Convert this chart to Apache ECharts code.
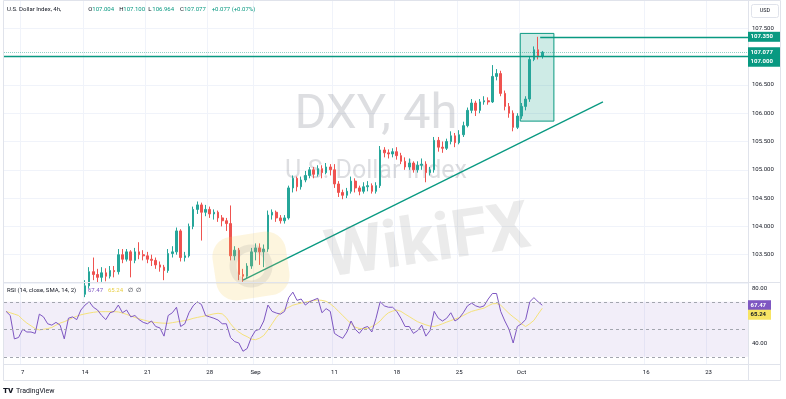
<!DOCTYPE html>
<html><head><meta charset="utf-8">
<script src="https://cdn.jsdelivr.net/npm/echarts@6/dist/echarts.min.js"></script>
<style>html,body{margin:0;padding:0;background:#fff}#c{width:786px;height:399px}</style>
</head><body><div id="c"></div>
<script>
// ---------- DATA ----------
const seriesTitle = 'U.S. Dollar Index, 4h,';
const firstDay = '2023-08-03';
const slotsPerDay = 3;
const firstSlotOffset = 2;
const totalSlots = 179;
const tickLabels = [
  ['2023-08-07|0','7'],['2023-08-14|0','14'],['2023-08-21|0','21'],['2023-08-28|0','28'],
  ['2023-08-31|2','Sep'],['2023-09-11|0','11'],['2023-09-18|0','18'],['2023-09-25|0','25'],
  ['2023-10-02|0','Oct'],['2023-10-16|0','16'],['2023-10-23|0','23']
];
const opens = [102.60,102.55,102.50,101.95,102.00,102.15,102.05,102.05,102.00,102.55,
  102.50,102.45,102.45,102.50,102.45,102.10,102.55,102.60,102.55,102.80,
  102.95,103.20,103.15,103.10,103.18,103.12,103.22,103.20,103.50,103.42,
  103.55,103.40,103.55,103.50,103.48,103.42,103.40,103.32,103.28,103.22,
  103.52,103.55,103.92,103.45,103.48,104.00,104.30,104.38,104.25,104.30,
  104.22,104.25,104.15,104.10,104.05,103.48,103.58,103.15,103.12,103.30,
  103.55,103.62,103.55,103.60,104.20,104.25,104.15,104.10,104.15,104.68,
  104.85,104.70,104.82,104.90,105.00,104.92,105.02,104.95,105.05,105.00,
  104.75,104.60,104.55,104.62,104.80,104.68,104.62,104.70,104.72,104.62,
  104.72,105.35,105.30,105.28,105.32,105.25,105.15,105.05,105.12,105.00,
  105.08,105.10,104.95,105.00,105.52,105.40,105.38,105.50,105.60,105.48,
  105.62,105.78,106.05,106.18,106.05,106.20,106.22,106.20,106.65,106.70,
  106.35,106.12,106.00,105.75,105.95,106.12,106.25,106.95,107.12,107.004];
const highs = [102.70,102.65,102.60,102.10,102.25,102.25,102.15,102.15,102.80,102.65,
  102.60,102.55,102.60,102.60,102.70,102.65,102.70,102.70,102.90,103.05,
  103.28,103.45,103.25,103.28,103.26,103.30,103.30,103.60,103.60,103.60,
  103.58,103.62,103.72,103.58,103.55,103.50,103.45,103.38,103.32,103.60,
  103.65,103.98,103.95,103.55,104.05,104.35,104.44,104.42,104.38,104.35,
  104.30,104.28,104.20,104.15,104.37,103.65,103.62,103.25,103.35,103.62,
  103.70,103.70,103.68,104.28,104.30,104.28,104.20,104.20,104.72,104.90,
  104.88,104.88,104.98,105.05,105.05,105.08,105.08,105.12,105.10,105.10,
  104.80,104.65,104.68,104.88,104.85,104.72,104.78,104.80,104.76,104.78,
  105.42,105.40,105.36,105.38,105.40,105.30,105.22,105.20,105.15,105.15,
  105.20,105.15,105.05,105.58,105.58,105.50,105.55,105.68,105.65,105.70,
  105.85,106.10,106.25,106.22,106.25,106.30,106.28,106.85,106.78,106.75,
  106.40,106.18,106.05,106.00,106.18,106.30,107.00,107.18,107.35,107.100];
const lows = [102.45,102.40,101.75,101.85,101.95,101.95,101.95,101.90,101.95,102.40,
  102.35,102.35,102.35,102.30,101.95,102.05,102.45,102.45,102.50,102.75,
  102.90,103.05,103.00,103.02,103.03,103.08,103.10,103.15,103.35,103.38,
  103.10,103.35,103.42,103.40,103.35,103.30,103.25,103.20,103.05,103.18,
  103.45,103.50,103.38,103.38,103.45,103.95,104.22,103.75,104.18,104.15,
  104.12,104.08,104.00,103.92,103.40,103.40,103.05,103.02,103.08,103.25,
  103.40,103.32,103.28,103.55,104.12,104.08,104.05,104.05,104.12,104.60,
  104.62,104.65,104.78,104.85,104.85,104.88,104.85,104.92,104.90,104.68,
  104.52,104.48,104.50,104.58,104.60,104.55,104.58,104.62,104.58,104.58,
  104.68,105.22,105.20,105.22,105.18,105.10,105.00,105.00,104.95,104.95,
  105.00,104.78,104.90,104.95,105.32,105.30,105.35,105.45,105.40,105.45,
  105.58,105.75,106.00,105.95,106.00,106.15,106.15,106.18,106.58,106.30,
  106.05,105.92,105.68,105.72,105.90,106.05,106.20,106.92,106.95,106.964];
const closes = [102.55,102.50,101.95,102.00,102.15,102.05,102.05,102.00,102.55,102.50,
  102.45,102.45,102.50,102.45,102.10,102.55,102.60,102.55,102.80,102.95,
  103.20,103.15,103.10,103.18,103.12,103.22,103.20,103.50,103.42,103.55,
  103.40,103.55,103.50,103.48,103.42,103.40,103.32,103.28,103.22,103.52,
  103.55,103.92,103.45,103.48,104.00,104.30,104.38,104.25,104.30,104.22,
  104.25,104.15,104.10,104.05,103.48,103.58,103.15,103.12,103.30,103.55,
  103.62,103.55,103.60,104.20,104.25,104.15,104.10,104.15,104.68,104.85,
  104.70,104.82,104.90,105.00,104.92,105.02,104.95,105.05,105.00,104.75,
  104.60,104.55,104.62,104.80,104.68,104.62,104.70,104.72,104.62,104.72,
  105.35,105.30,105.28,105.32,105.25,105.15,105.05,105.12,105.00,105.08,
  105.10,104.95,105.00,105.52,105.40,105.38,105.50,105.60,105.48,105.62,
  105.78,106.05,106.18,106.05,106.20,106.22,106.20,106.65,106.70,106.35,
  106.12,106.00,105.75,105.95,106.12,106.25,106.95,107.12,107.00,107.077];
const rsiValues = [63,60,43,44,50,48,48,47,61,59,
  54,53,55,53,43,58,59,57,64,67.6,
  70,66,64,60,57,62,63,67.6,62,64,
  59,60,57,55,54,56,52,51,45,60,
  62,66,52,54,62,67,70,68,60,59,
  58,56.7,54,54,44,41,40,34,36,44,
  49,50,56,67.6,63,61.8,61,63,73,77,
  71,72,67.6,70,71.3,72.5,62,65,63,47,
  45,43.4,48,56,50,47,51,52,48,58,
  70,67,66,66,63,58,52,52,47,49,
  53,45,49,63,58,56,58,62,56,58,
  62,67,69,67,66,67,72,76,76,63,
  56,50,40,52,54,57,70,73,70,67.47];
const rsiSma = [63,62,61,60,57,54.5,52.5,50.5,49.5,50,
  50.5,51.3,53,54.5,55.5,56.8,58.3,59.5,60.5,61.2,
  61.8,62.3,62.7,62.8,62.8,62.8,62.8,62.6,61.8,60.8,
  59.7,58.6,57.6,56.8,56,55.3,54.9,54.6,54.4,54.3,
  54.8,55.3,55.8,56.3,57,57.9,58.6,59.2,59.8,60.5,
  61.2,61.6,61.2,58.5,54,50.5,48,46,44.6,42.8,
  42.4,43.5,45.5,49.5,54,58.5,62,64.5,66,67.5,
  68.3,69,69.7,70.3,70.9,71.3,71,70.3,68.5,66,
  63,60,57,54,51.5,50.6,50.5,50.6,52,53.6,
  56,59.5,62,63.2,64,63,61,59.2,57.3,55.5,
  54.3,53.2,52.3,52,52.8,54,55.2,56.3,57.4,58.5,
  60,61.6,63,63.8,64.6,65.4,67,68.5,68.7,67.5,
  64.5,61.5,59,56.7,54,52,54,56.5,61,65.24];
const prevClose = 107.000;
// drawings, in (bar index, price) data coordinates
const trendLine = [[57.0, 103.05], [143.6, 106.20]];
const supportLevel = 107.000;
const resistanceRay = {fromBar: 128.5, price: 107.350};
const boxZone = {fromBar: 123.7, toBar: 131.8, top: 107.41, bottom: 105.86};
const rsiBands = [70, 50, 30];

// ---------- BUILD ----------
function buildCategories() {
  const out = [];
  const d = new Date(firstDay + 'T00:00:00Z');
  while (out.length < totalSlots + firstSlotOffset) {
    const wd = d.getUTCDay();
    if (wd !== 0 && wd !== 6) {
      const s = d.toISOString().slice(0, 10);
      for (let k = 0; k < slotsPerDay; k++) out.push(s + '|' + k);
    }
    d.setUTCDate(d.getUTCDate() + 1);
  }
  return out.slice(firstSlotOffset, firstSlotOffset + totalSlots);
}
const categories = buildCategories();
const labelMap = new Map(tickLabels);
const candles = closes.map((c, i) => [opens[i], c, lows[i], highs[i]]);
const TEAL = '#089981', UP = '#26a69a', DOWN = '#ef5350', TXT = '#131722', LINE = '#e0e3eb';
const F = 'Roboto';

const chart = echarts.init(document.getElementById('c'));
const option = {
  animation: false,
  backgroundColor: '#ffffff',
  textStyle: {fontFamily: F},
  grid: [
    {left: 4, right: 38, top: 0, height: 283},
    {left: 4, right: 38, top: 274.25, height: 96.25},
    {left: 4, right: 38, top: 0, height: 364}
  ],
  xAxis: [
    {type: 'category', gridIndex: 0, data: categories, boundaryGap: true, show: false},
    {type: 'value', gridIndex: 0, min: -0.5, max: totalSlots - 0.5, show: false},
    {type: 'category', gridIndex: 1, data: categories, boundaryGap: true, show: false},
    {type: 'category', gridIndex: 2, data: categories, boundaryGap: true,
      axisLine: {show: false}, axisTick: {show: false},
      axisLabel: {interval: (i, v) => labelMap.has(v), formatter: v => labelMap.get(v) || '',
        fontSize: 6, color: TXT, margin: 5, fontFamily: F},
      splitLine: {show: true, interval: (i, v) => labelMap.has(v), lineStyle: {color: '#f0f3fa', width: 1}}}
  ],
  yAxis: [
    {type: 'value', gridIndex: 0, position: 'right', min: 103, max: 108, interval: 0.5,
      axisLine: {show: false}, axisTick: {show: false},
      axisLabel: {fontSize: 6, color: TXT, margin: 4, fontFamily: F,
        formatter: v => (v <= 103 || v >= 108) ? '' : v.toFixed(3)},
      splitLine: {lineStyle: {color: '#f0f3fa'}}},
    {type: 'value', gridIndex: 1, position: 'right', min: 20, max: 90, interval: 10,
      axisLine: {show: false}, axisTick: {show: false},
      axisLabel: {fontSize: 6, color: TXT, margin: 4, fontFamily: F,
        formatter: v => (v === 80 || v === 40) ? v.toFixed(2) : ''},
      splitLine: {show: false}},
    {type: 'value', gridIndex: 2, show: false, min: 0, max: 1}
  ],
  series: [
    {type: 'candlestick', xAxisIndex: 0, yAxisIndex: 0, data: candles, barMaxWidth: 3, barMinWidth: 1, z: 3,
      itemStyle: {color: UP, color0: DOWN, borderColor: UP, borderColor0: DOWN, borderWidth: 1}},
    {type: 'line', xAxisIndex: 1, yAxisIndex: 0, data: trendLine, symbol: 'none', silent: true, z: 4,
      lineStyle: {color: TEAL, width: 1.3},
      markLine: {symbol: ['none', 'none'], silent: true, label: {show: false}, animation: false,
        data: [
          {yAxis: supportLevel, lineStyle: {color: TEAL, width: 1.3, type: 'solid'}},
          {yAxis: closes[closes.length - 1], lineStyle: {color: TEAL, width: 1, type: 'dotted', opacity: 0.45}},
          [{coord: [resistanceRay.fromBar, resistanceRay.price], lineStyle: {color: TEAL, width: 1.3, type: 'solid'}},
           {coord: [totalSlots - 0.5, resistanceRay.price]}]
        ]},
      markArea: {silent: true, itemStyle: {color: 'rgba(8,153,129,0.2)', borderColor: TEAL, borderWidth: 1},
        data: [[{coord: [boxZone.fromBar, boxZone.top]}, {coord: [boxZone.toBar, boxZone.bottom]}]]}},
    {type: 'line', xAxisIndex: 2, yAxisIndex: 1, data: rsiSma, symbol: 'none', silent: true, z: 3,
      lineStyle: {color: '#f5e27a', width: 1}},
    {type: 'line', xAxisIndex: 2, yAxisIndex: 1, data: rsiValues, symbol: 'none', silent: true, z: 4,
      lineStyle: {color: '#7e57c2', width: 1},
      markArea: {silent: true, itemStyle: {color: 'rgba(126,87,194,0.1)'}, data: [[{yAxis: 30}, {yAxis: 70}]]},
      markLine: {symbol: ['none', 'none'], silent: true, label: {show: false},
        lineStyle: {color: '#a3a6af', type: [3, 3], width: 1},
        data: rsiBands.map(v => ({yAxis: v}))}}
  ]
};
chart.setOption(option);

// ---------- annotations (positions from the library's scales) ----------
const py = v => chart.convertToPixel({yAxisIndex: 0}, v);
const ry = v => chart.convertToPixel({yAxisIndex: 1}, v);
function stack(tags) {
  tags.sort((a, b) => a.y - b.y);
  for (let i = 1; i < tags.length; i++) if (tags[i].y < tags[i - 1].y + 9.5) tags[i].y = tags[i - 1].y + 9.5;
  return tags;
}
const lastC = closes[closes.length - 1];
const priceTags = stack([
  {y: py(resistanceRay.price), text: resistanceRay.price.toFixed(3), bg: TEAL, fg: '#fff', w: 32},
  {y: py(lastC), text: lastC.toFixed(3), bg: TEAL, fg: '#fff', w: 32},
  {y: py(supportLevel), text: supportLevel.toFixed(3), bg: TEAL, fg: '#fff', w: 32}
]);
const rsiLast = rsiValues[rsiValues.length - 1], smaLast = rsiSma[rsiSma.length - 1];
const rsiTags = stack([
  {y: ry(rsiLast), text: rsiLast.toFixed(2), bg: '#7e57c2', fg: '#fff', w: 23},
  {y: ry(smaLast), text: smaLast.toFixed(2), bg: '#f7e463', fg: TXT, w: 23}
]);
const g = [];
const txt = (x, y, text, fill, size, extra) => g.push(Object.assign({type: 'text', x, y, z: 30,
  style: {text, fill, font: (extra && extra.weight ? extra.weight + ' ' : '') + size + 'px ' + F,
    verticalAlign: 'middle', align: (extra && extra.align) || 'left'}}, extra && extra.rot ? {rotation: extra.rot} : {}));
// watermarks
g.push({type: 'text', x: 376, y: 116, z: 1, style: {text: 'DXY, 4h', font: '49px ' + F, fill: 'rgba(120,123,134,0.25)', align: 'center', verticalAlign: 'middle'}});
g.push({type: 'text', x: 376, y: 172, z: 1, style: {text: 'U.S. Dollar Index', font: '25px ' + F, fill: 'rgba(120,123,134,0.25)', align: 'center', verticalAlign: 'middle'}});
g.push({type: 'group', x: 251, y: 266, rotation: 0.15, z: 10, children: [
  {type: 'rect', z: 10, shape: {x: -37, y: -32, width: 74, height: 64, r: 20}, style: {fill: 'rgba(246,206,90,0.2)'}},
  {type: 'circle', z: 10, shape: {cx: 0, cy: 0, r: 18}, style: {fill: 'none', stroke: 'rgba(128,128,128,0.14)', lineWidth: 7}}
]});
g.push({type: 'text', x: 428, y: 245, rotation: 0.15, z: 10, style: {text: 'WikiFX', font: 'bold 66px ' + F, fill: 'rgba(128,128,128,0.16)', align: 'center', verticalAlign: 'middle'}});
// frame
g.push({type: 'rect', z: 25, shape: {x: 3.5, y: 0.5, width: 777, height: 380}, style: {fill: 'none', stroke: LINE}});
g.push({type: 'line', z: 25, shape: {x1: 748.5, y1: 0, x2: 748.5, y2: 380}, style: {stroke: LINE}});
g.push({type: 'line', z: 25, shape: {x1: 3.5, y1: 282.5, x2: 780.5, y2: 282.5}, style: {stroke: LINE}});
g.push({type: 'line', z: 25, shape: {x1: 3.5, y1: 364.5, x2: 780.5, y2: 364.5}, style: {stroke: LINE}});
// header
txt(7, 9, seriesTitle, TXT, 6);
const hdr = [['O', opens.at(-1)], ['H', highs.at(-1)], ['L', lows.at(-1)], ['C', lastC]];
const hx = [88.3, 119.3, 148.3, 180];
hdr.forEach((h, i) => { txt(hx[i], 9, h[0], TXT, 6); txt(hx[i] + 4, 9, h[1].toFixed(3), TEAL, 6); });
const chg = lastC - prevClose;
txt(211.7, 9, (chg >= 0 ? '+' : '') + chg.toFixed(3) + ' (' + (chg >= 0 ? '+' : '') + (chg / prevClose * 100).toFixed(2) + '%)', TEAL, 6);
// RSI legend
txt(7, 290, 'RSI (14, close, SMA, 14, 2)', TXT, 6);
txt(88, 290, rsiLast.toFixed(2), '#7e57c2', 6);
txt(108, 290, smaLast.toFixed(2), '#e8cf45', 6);
txt(128, 290, '∅', TXT, 6);
txt(136, 290, '∅', TXT, 6);
// USD box
g.push({type: 'rect', z: 30, shape: {x: 751.5, y: 4.5, width: 27, height: 13, r: 2}, style: {fill: '#fff', stroke: LINE}});
txt(765, 11, 'USD', TXT, 5.5, {align: 'center'});
// value tags
priceTags.concat(rsiTags).forEach(t => {
  g.push({type: 'rect', z: 30, shape: {x: 748, y: t.y - 5, width: t.w, height: 10}, style: {fill: t.bg}});
  txt(750.5, t.y, t.text, t.fg, 6, {weight: 'bold'});
});
// TradingView credit
txt(3, 391, 'TV', TXT, 8, {weight: '900'});
txt(16, 391, 'TradingView', TXT, 7);
chart.setOption({graphic: {elements: g}});
</script>
</body></html>
